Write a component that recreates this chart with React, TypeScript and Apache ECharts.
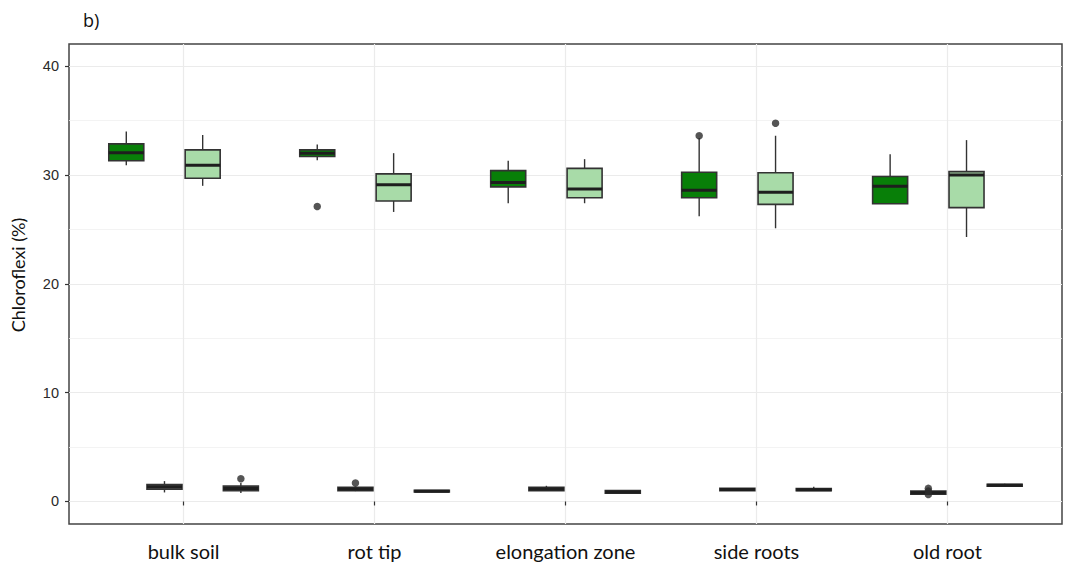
import React, { useEffect, useRef } from "react";
import * as echarts from "echarts";

// categories along the x axis
const categories = ["bulk soil", "rot tip", "elongation zone", "side roots", "old root"];

// box statistics [min, Q1, median, Q3, max] per category
const darkHigh = [
  [30.9, 31.3, 32.05, 32.85, 34.0],
  [31.35, 31.7, 32.0, 32.3, 32.8],
  [27.4, 28.9, 29.3, 30.4, 31.3],
  [26.2, 27.9, 28.6, 30.25, 33.4],
  [27.35, 27.35, 28.95, 29.85, 31.9],
];
const lowB = [
  [0.83, 1.13, 1.35, 1.55, 1.87],
  [0.95, 1.0, 1.15, 1.3, 1.38],
  [0.98, 1.0, 1.15, 1.3, 1.44],
  [0.98, 1.0, 1.1, 1.2, 1.22],
  [0.6, 0.66, 0.8, 0.95, 1.0],
];
const lightHigh = [
  [29.0, 29.7, 30.9, 32.3, 33.67],
  [26.6, 27.6, 29.1, 30.1, 32.0],
  [27.4, 27.9, 28.7, 30.6, 31.45],
  [25.1, 27.3, 28.4, 30.2, 33.6],
  [24.3, 27.0, 30.0, 30.3, 33.2],
];
const lowD = [
  [0.77, 0.98, 1.2, 1.41, 1.69],
  [0.85, 0.88, 0.95, 1.02, 1.05],
  [0.71, 0.75, 0.86, 1.0, 1.01],
  [0.98, 1.0, 1.08, 1.18, 1.35],
  [1.35, 1.4, 1.5, 1.58, 1.63],
];

// outliers: [categoryIndex, value]
const outDarkHigh = [[1, 27.1], [3, 33.6]];
const outLowB = [[1, 1.69], [4, 1.2], [4, 0.95], [4, 0.65]];
const outLightHigh = [[3, 34.75]];
const outLowD = [[0, 2.08]];

const yTicks = [0, 10, 20, 30, 40];
const yMinorTicks = [5, 15, 25, 35];

const FILLS = ["#087f08", "#8a8a8a", "#a8dba8", "#555555"];

export default function App() {
  const ref = useRef<HTMLDivElement>(null);
  useEffect(() => {
    if (!ref.current) return;
    const chart = echarts.init(ref.current, null, { renderer: "svg" });

    // 10 sub-positions per category unit; category centre at 6 + 10*i
    const N = categories.length * 10 + 3;
    const xData: string[] = [];
    for (let k = 0; k < N; k++) {
      const i = (k - 6) / 10;
      xData.push(Number.isInteger(i) && i >= 0 && i < categories.length ? categories[i] : "p" + k);
    }

    const groups = [
      { stats: darkHigh, out: outDarkHigh, off: -3 },
      { stats: lowB, out: outLowB, off: -1 },
      { stats: lightHigh, out: outLightHigh, off: 1 },
      { stats: lowD, out: outLowD, off: 3 },
    ];

    const boxData: number[][] = [];
    const outData: number[][] = [];
    groups.forEach((g, gi) => {
      g.stats.forEach((s, i) => {
        boxData.push([6 + 10 * i + g.off, ...s, gi]);
      });
      g.out.forEach(([i, v]) => outData.push([6 + 10 * i + g.off, v]));
    });

    const isCat = (idx: number) => idx % 10 === 6;
    const BOXW = 35;

    const renderItem = (params: any, api: any) => {
      const x = api.value(0);
      const pMin = api.coord([x, api.value(1)]);
      const pQ1 = api.coord([x, api.value(2)]);
      const pMed = api.coord([x, api.value(3)]);
      const pQ3 = api.coord([x, api.value(4)]);
      const pMax = api.coord([x, api.value(5)]);
      const fill = FILLS[api.value(6)];
      const cx = pMed[0];
      const stroke = "#333333";
      return {
        type: "group",
        children: [
          {
            type: "line",
            shape: { x1: cx, y1: pQ3[1], x2: cx, y2: pMax[1] },
            style: { stroke, lineWidth: 1.4 },
          },
          {
            type: "line",
            shape: { x1: cx, y1: pQ1[1], x2: cx, y2: pMin[1] },
            style: { stroke, lineWidth: 1.4 },
          },
          {
            type: "rect",
            shape: { x: cx - BOXW / 2, y: pQ3[1], width: BOXW, height: pQ1[1] - pQ3[1] },
            style: { fill, stroke, lineWidth: 1.6 },
          },
          {
            type: "line",
            shape: { x1: cx - BOXW / 2, y1: pMed[1], x2: cx + BOXW / 2, y2: pMed[1] },
            style: { stroke: "#1e1e1e", lineWidth: 3 },
          },
        ],
      };
    };

    chart.setOption({
      animation: false,
      backgroundColor: "#ffffff",
      grid: {
        left: 69,
        right: 15,
        top: 44,
        bottom: 49,
        show: true,
        borderColor: "#444444",
        borderWidth: 1.5,
        backgroundColor: "transparent",
      },
      graphic: [
        {
          type: "text",
          left: 83,
          top: 11,
          style: { text: "b)", font: "18px 'Open Sans'", fill: "#111" },
        },
        {
          type: "text",
          x: 18,
          y: 275,
          rotation: Math.PI / 2,
          style: {
            text: "Chloroflexi (%)",
            font: "18px Lato",
            fill: "#111",
            align: "center",
            verticalAlign: "middle",
          },
        },
      ],
      xAxis: {
        type: "category",
        data: xData,
        boundaryGap: false,
        axisLine: { show: false },
        axisTick: {
          show: true,
          interval: (idx: number) => isCat(idx),
          length: 4,
          lineStyle: { color: "#333", width: 1.2 },
        },
        axisLabel: {
          interval: (idx: number) => isCat(idx),
          margin: 17,
          fontSize: 20,
          fontFamily: "Lato",
          color: "#111",
        },
        splitLine: {
          show: true,
          interval: (idx: number) => isCat(idx),
          lineStyle: { color: "#ebebeb", width: 1.2 },
        },
      },
      yAxis: [
        {
          type: "value",
          min: -2.07,
          max: 42.03,
          axisLine: { show: false },
          axisTick: {
            show: true,
            customValues: yTicks,
            length: 4,
            lineStyle: { color: "#333", width: 1.2 },
          },
          axisLabel: {
            customValues: yTicks,
            margin: 10,
            fontSize: 14.5,
            fontFamily: "'Liberation Sans'",
            color: "#2a2a2a",
          },
          splitLine: { show: true, lineStyle: { color: "#ebebeb", width: 1.2 } },
        },
        {
          type: "value",
          min: -2.07,
          max: 42.03,
          position: "left",
          axisLine: { show: false },
          axisTick: { show: false, customValues: yMinorTicks },
          axisLabel: { show: false, customValues: yMinorTicks },
          splitLine: { show: true, lineStyle: { color: "#f0f0f0", width: 0.8 } },
        },
      ],
      series: [
        {
          type: "custom",
          renderItem,
          encode: { x: 0, y: [1, 2, 3, 4, 5] },
          data: boxData,
          z: 3,
        },
        {
          type: "scatter",
          data: outData,
          symbolSize: 7.5,
          itemStyle: { color: "#2b2b2b" },
          z: 4,
        },
      ],
    });
    return () => chart.dispose();
  }, []);
  return (
    <div
      ref={ref}
      style={{ position: "absolute", left: 0, top: 0, width: 1077, height: 573 }}
    />
  );
}
